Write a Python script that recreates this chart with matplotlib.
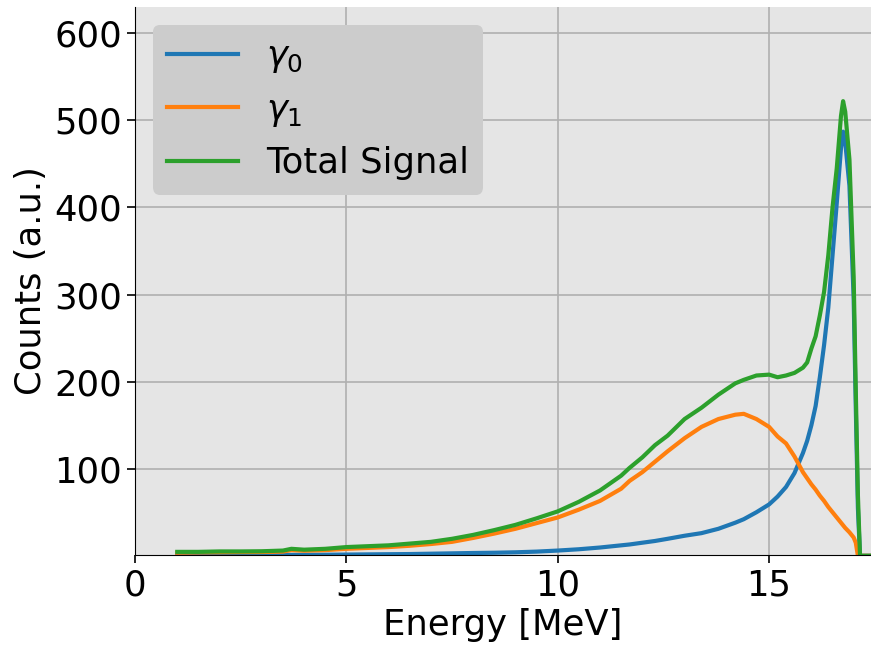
import numpy as np
import matplotlib
matplotlib.use('Agg')
import matplotlib.pyplot as plt

# energy grid [MeV] shared by the three spectra
energy = [1.0, 1.5, 2.0, 2.5, 3.0, 3.5, 3.7, 4.0, 4.5, 5.0, 5.5, 6.0, 6.5, 7.0,
          7.5, 8.0, 8.5, 9.0, 9.5, 10.0, 10.5, 11.0, 11.5, 11.7, 12.0, 12.3,
          12.6, 13.0, 13.4, 13.8, 14.2, 14.4, 14.7, 15.0, 15.2, 15.4, 15.6,
          15.8, 15.9, 16.0, 16.1, 16.2, 16.3, 16.4, 16.5, 16.6, 16.7, 16.75,
          16.8, 16.9, 17.0, 17.05, 17.1, 17.15, 17.5]

gamma0 = [0.5, 0.5, 0.6, 0.7, 0.8, 1.0, 1.0, 1.1, 1.2, 1.4, 1.6, 1.8, 2.0, 2.4,
          2.8, 3.2, 3.5, 4.0, 4.8, 6.0, 7.5, 9.5, 12, 13, 15, 17,
          19.5, 23, 26, 31, 38, 42, 50, 59, 68, 79, 95,
          118, 132, 150, 172, 205, 242, 285, 345, 405, 468, 487,
          475, 425, 295, 170, 55, 0, 0]

gamma1 = [3.5, 3.8, 4.0, 4.2, 4.3, 4.8, 6.5, 5.8, 6.5, 8.0, 9.0, 10, 11.5, 13.5,
          16, 20.5, 25.5, 31, 37.5, 44, 53, 63, 77, 86, 96, 108,
          120, 135, 148, 157, 162, 163, 157, 148, 137, 129, 114,
          96, 89, 82, 76, 69, 63, 56, 50, 44, 38, 35,
          32, 27, 21, 15, 0, 0, 0]

total = [4.5, 4.5, 5.0, 5.0, 5.2, 6.0, 8.0, 7.0, 8.0, 10, 11, 12, 14, 16,
         19.5, 24, 29.5, 35.5, 43, 51, 62, 75, 92, 101, 113, 127,
         138, 157, 170, 185, 198, 202, 207, 208, 205, 207, 210,
         216, 222, 238, 252, 276, 303, 345, 400, 445, 505, 522,
         510, 455, 320, 190, 70, 0, 0]

fig = plt.figure(figsize=(8.71, 6.46), dpi=100)
ax = fig.add_axes([0.155, 0.141, 0.845, 0.848])
ax.set_facecolor('#e5e5e5')
ax.grid(True, color='#b0b0b0', linewidth=1.2)
ax.set_axisbelow(True)

ax.plot(energy, gamma0, lw=3, label=r'$\gamma_0$')
ax.plot(energy, gamma1, lw=3, label=r'$\gamma_1$')
ax.plot(energy, total, lw=3, label='Total Signal')

ax.set_xlim(0, 17.41)
ax.set_ylim(1, 630)
ax.set_xticks([0, 5, 10, 15])
ax.set_yticks([100, 200, 300, 400, 500, 600])
ax.tick_params(labelsize=25.5, width=1.2, length=6)
ax.spines['top'].set_visible(False)
ax.spines['right'].set_visible(False)
ax.set_xlabel('Energy [MeV]', fontsize=25.5)
ax.set_ylabel('Counts (a.u.)', fontsize=25.5)

leg = ax.legend(loc='upper left', fontsize=25.5, facecolor='#cccccc',
                framealpha=1, edgecolor='none')

fig.savefig('out.png', dpi=100)
